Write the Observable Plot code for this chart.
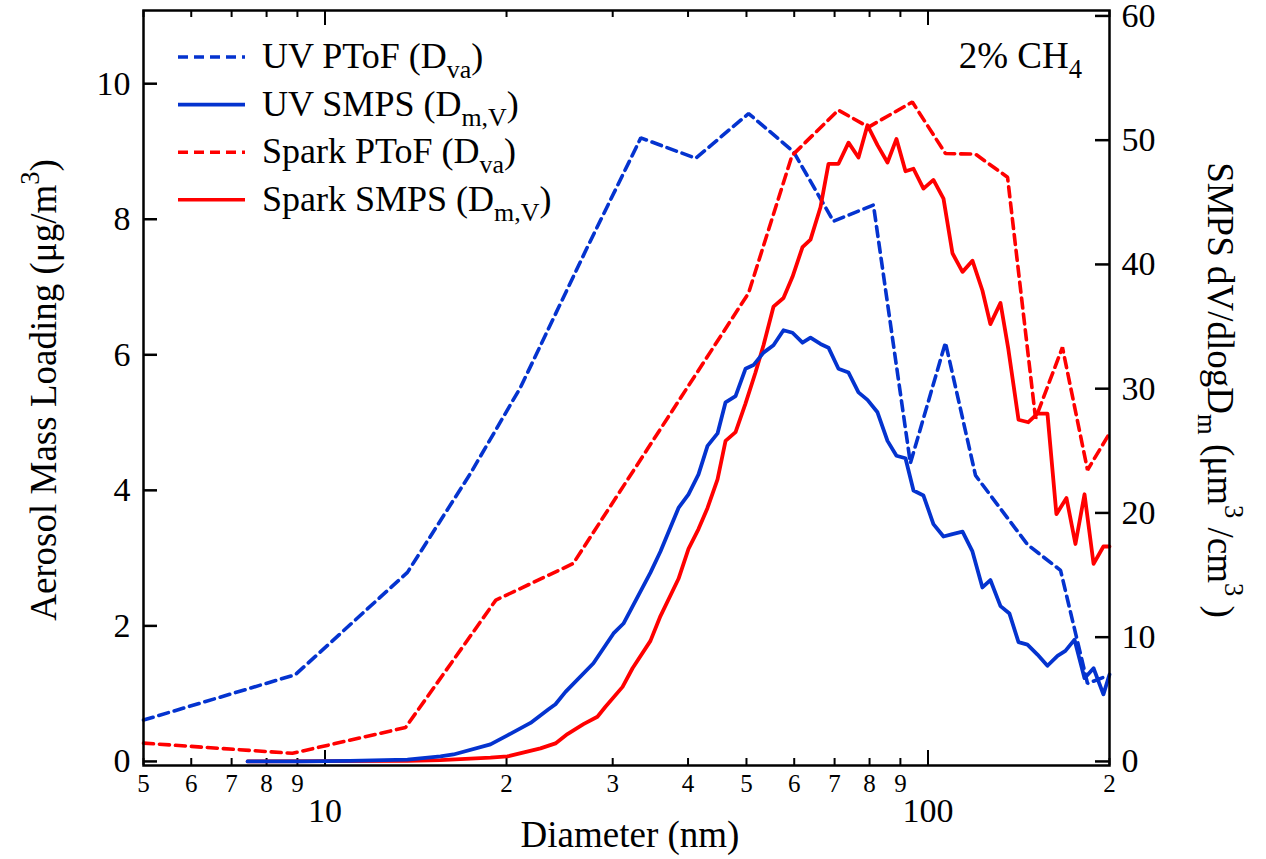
<!DOCTYPE html>
<html><head><meta charset="utf-8">
<script src="https://cdn.jsdelivr.net/npm/d3@7"></script>
<script src="https://cdn.jsdelivr.net/npm/@observablehq/plot@0.6"></script>
<style>
html,body{margin:0;padding:0;background:#fff;}
#chart{width:1266px;height:859px;}
</style></head><body><div id="chart"></div>
<script>
// ---- data (diameter in nm) ----
const uvPtofDiam  = [5, 8.93, 13.7, 17.43, 21.1, 27.24, 33.4, 41.2, 50.4, 59.8, 69.7, 81.2, 93.5, 106.9, 119.9, 146.2, 165.9, 183.9, 195.4];
const uvPtofMass  = [0.61, 1.28, 2.79, 4.25, 5.52, 7.59, 9.20, 8.90, 9.56, 9.0, 7.97, 8.21, 4.40, 6.18, 4.22, 3.2, 2.82, 1.15, 1.24];

const sparkPtofDiam = [5, 8.83, 13.6, 19.2, 25.8, 50.4, 59.5, 71.0, 79.7, 94.2, 106.9, 119.9, 135.5, 150.8, 167.1, 183.9, 200];
const sparkPtofMass = [0.27, 0.12, 0.50, 2.38, 2.92, 6.91, 8.94, 9.61, 9.36, 9.73, 8.97, 8.96, 8.62, 5.06, 6.11, 4.30, 4.84];

const uvSmpsDiam = [7.44, 9.11, 11.0, 13.7, 15.54, 16.33, 18.81, 20.07, 21.92, 23.48, 24.11, 25.05, 27.87, 30.09, 31.26, 34.65, 36.0, 38.57, 40.07, 41.63, 43.09, 44.77, 46.16, 47.96, 49.81, 51.36, 53.36, 55.43, 57.59, 59.61, 61.93, 63.85, 66.33, 68.39, 71.05, 73.83, 76.69, 79.37, 82.46, 85.67, 88.66, 91.77, 94.61, 98.29, 102.1, 106.1, 109.8, 114.1, 118.5, 123.1, 126.9, 131.9, 136.5, 141.3, 146.2, 151.9, 157.8, 164.0, 169.0, 175.0, 181.8, 188.2, 195.4, 200];
const uvSmpsVol  = [0.0, 0.0, 0.05, 0.15, 0.4, 0.56, 1.37, 2.1, 3.1, 4.2, 4.6, 5.6, 7.9, 10.3, 11.1, 15.2, 16.9, 20.4, 21.5, 23.1, 25.4, 26.4, 28.9, 29.4, 31.6, 31.9, 32.9, 33.5, 34.7, 34.5, 33.7, 34.1, 33.6, 33.3, 31.6, 31.3, 29.7, 29.1, 28.1, 25.8, 24.6, 24.4, 21.8, 21.4, 19.1, 18.1, 18.3, 18.5, 16.9, 14.0, 14.6, 12.5, 11.9, 9.6, 9.4, 8.6, 7.7, 8.5, 8.9, 9.8, 6.7, 7.5, 5.4, 7.0];

const sparkSmpsDiam = [7.44, 13.7, 15.54, 18.81, 20.07, 22.77, 24.11, 25.24, 26.83, 28.30, 29.18, 31.15, 32.36, 34.65, 36.0, 38.57, 40.07, 41.63, 43.09, 44.77, 46.16, 47.96, 49.81, 51.75, 53.36, 55.43, 57.59, 59.61, 61.93, 63.85, 66.33, 68.39, 71.05, 73.83, 76.69, 79.37, 82.46, 85.67, 88.66, 91.77, 94.61, 98.29, 102.1, 106.1, 109.8, 114.1, 118.5, 123.1, 126.9, 131.9, 135.9, 141.3, 146.7, 151.9, 157.8, 163.3, 169.7, 175.6, 181.8, 188.2, 195.4, 200];
const sparkSmpsVol  = [0.0, 0.05, 0.1, 0.3, 0.4, 1.05, 1.45, 2.2, 3.0, 3.6, 4.4, 6.0, 7.5, 9.7, 11.7, 14.7, 17.1, 18.7, 20.4, 22.7, 25.8, 26.5, 28.8, 31.3, 33.5, 36.6, 37.3, 39.0, 41.4, 42.0, 44.6, 48.1, 48.1, 49.8, 48.6, 51.2, 49.6, 48.2, 50.1, 47.5, 47.7, 46.1, 46.8, 45.3, 40.9, 39.4, 40.3, 37.9, 35.2, 36.9, 33.2, 27.5, 27.3, 28.0, 28.0, 19.9, 21.2, 17.5, 21.5, 15.9, 17.3, 17.3];

// ---- ticks & labels ----
const xMinorTicks  = [5, 6, 7, 8, 9, 20, 30, 40, 50, 60, 70, 80, 90, 200];
const xMinorLabels = ["5", "6", "7", "8", "9", "2", "3", "4", "5", "6", "7", "8", "9", "2"];
const xDecadeTicks = [10, 100];
const xDecadeLabels = ["10", "100"];
const leftTicks  = [0, 2, 4, 6, 8, 10];
const rightTicks = [0, 10, 20, 30, 40, 50, 60];

const blue = "#0433cf", red = "#ff0000";
const rightToLeft = 11 / 60;           // right-axis units -> left-axis units
const W = 1266, H = 859, mL = 143, mR = 157, mT = 10, mB = 94;
const plotH = H - mT - mB, plotW = W - mL - mR;
const dash = "10,6";

const mk = (xs, ys, f = 1) => xs.map((d, i) => ({d, v: ys[i] * f}));
const uvPtof = mk(uvPtofDiam, uvPtofMass);
const spPtof = mk(sparkPtofDiam, sparkPtofMass);
const uvSmps = mk(uvSmpsDiam, uvSmpsVol, rightToLeft);
const spSmps = mk(sparkSmpsDiam, sparkSmpsVol, rightToLeft);

const font = "Liberation Serif, Times New Roman, serif";

const svg = Plot.plot({
  width: W, height: H,
  marginLeft: mL, marginRight: mR, marginTop: mT, marginBottom: mB,
  style: {fontFamily: font, color: "black", background: "white"},
  x: {type: "log", domain: [5, 200], axis: null},
  y: {domain: [-0.06, 11.08], axis: null},
  marks: [
    // tick marks (inward)
    Plot.tickX(xMinorTicks, {x: d => d, insetTop: plotH - 7, stroke: "black", strokeWidth: 2}),
    Plot.tickX(xDecadeTicks, {x: d => d, insetTop: plotH - 15, stroke: "black", strokeWidth: 2}),
    Plot.tickX(xMinorTicks, {x: d => d, insetBottom: plotH - 7, stroke: "black", strokeWidth: 2}),
    Plot.tickX(xDecadeTicks, {x: d => d, insetBottom: plotH - 15, stroke: "black", strokeWidth: 2}),
    Plot.tickY(leftTicks, {y: d => d, insetRight: plotW - 14, stroke: "black", strokeWidth: 2.5}),
    Plot.tickY(rightTicks, {y: d => d * rightToLeft, insetLeft: plotW - 14, stroke: "black", strokeWidth: 2.5}),
    // x tick labels
    Plot.text(xMinorTicks, {x: d => d, text: (d, i) => xMinorLabels[i], frameAnchor: "bottom", dy: 18, fontSize: 25, lineAnchor: "middle", fill: "black"}),
    Plot.text(xDecadeTicks, {x: d => d, text: (d, i) => xDecadeLabels[i], frameAnchor: "bottom", dy: 46, fontSize: 34, lineAnchor: "middle", fill: "black"}),
    // y tick labels
    Plot.axisY(leftTicks, {anchor: "left", tickSize: 0, tickPadding: 13, fontSize: 34, fill: "black", label: null, tickFormat: d => String(d)}),
    Plot.axisY(rightTicks.map(t => t * rightToLeft), {anchor: "right", tickSize: 0, tickPadding: 12, fontSize: 34, fill: "black", label: null,
      tickFormat: d => String(Math.round(d / rightToLeft))}),
    // series
    Plot.line(uvPtof, {x: "d", y: "v", stroke: blue, strokeWidth: 3.6, strokeDasharray: dash, strokeLinejoin: "miter"}),
    Plot.line(spPtof, {x: "d", y: "v", stroke: red, strokeWidth: 3.6, strokeDasharray: dash, strokeLinejoin: "miter"}),
    Plot.line(spSmps, {x: "d", y: "v", stroke: red, strokeWidth: 3.8}),
    Plot.line(uvSmps, {x: "d", y: "v", stroke: blue, strokeWidth: 3.8}),
    Plot.frame({stroke: "black", strokeWidth: 2.5})
  ]
});
document.getElementById("chart").appendChild(svg);

// ---- annotations: titles, legend ----
const g = d3.select(svg).append("g").attr("font-family", font).attr("fill", "black").attr("text-anchor", "start");

function rich(sel, parts, size) {
  let shift = 0;
  parts.forEach(([t, k]) => {
    const ts = sel.append("tspan").text(t);
    let target = 0, fs = size;
    if (k === "sub") { target = size * 0.28; fs = size * 0.72; }
    if (k === "sup") { target = -size * 0.45; fs = size * 0.72; }
    ts.attr("dy", target - shift).attr("font-size", fs);
    shift = target;
  });
}

// left title
rich(g.append("text").attr("transform", "translate(56,390) rotate(-90)").attr("text-anchor", "middle").attr("font-size", 37),
  [["Aerosol Mass Loading (μg/m", "n"], ["3", "sup"], [")", "n"]], 37);
// right title
rich(g.append("text").attr("transform", "translate(1208,390) rotate(90)").attr("text-anchor", "middle").attr("font-size", 37),
  [["SMPS dV/dlogD", "n"], ["m", "sub"], [" (μm", "n"], ["3", "sup"], [" /cm", "n"], ["3", "sup"], [" )", "n"]], 37);
// x title
g.append("text").attr("x", 630).attr("y", 847).attr("text-anchor", "middle").attr("font-size", 37).text("Diameter (nm)");
// annotation
rich(g.append("text").attr("x", 1082).attr("y", 68).attr("text-anchor", "end").attr("font-size", 37),
  [["2% CH", "n"], ["4", "sub"]], 37);

// legend
const legendItems = [
  {name: "UV PToF (D", sub: "va", color: blue, dash: dash},
  {name: "UV SMPS (D", sub: "m,V", color: blue, dash: null},
  {name: "Spark PToF (D", sub: "va", color: red, dash: dash},
  {name: "Spark SMPS (D", sub: "m,V", color: red, dash: null}
];
legendItems.forEach((it, i) => {
  const y = 57 + 47.6 * i;
  g.append("line").attr("x1", 178).attr("x2", 245).attr("y1", y).attr("y2", y)
    .attr("stroke", it.color).attr("stroke-width", 3.6).attr("stroke-dasharray", it.dash);
  rich(g.append("text").attr("x", 262).attr("y", y + 11).attr("font-size", 36),
    [[it.name, "n"], [it.sub, "sub"], [")", "n"]], 36);
});
</script></body></html>
